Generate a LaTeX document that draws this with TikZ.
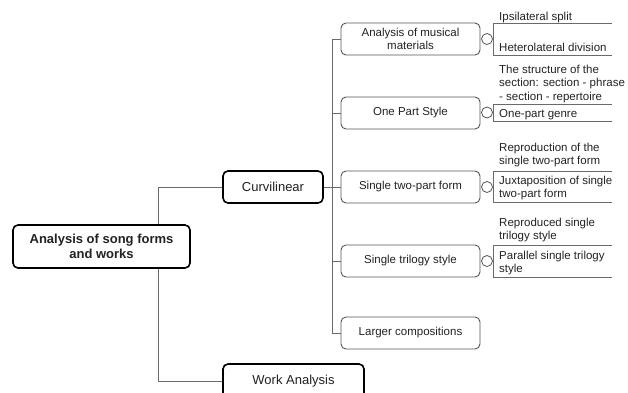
\documentclass[tikz,border=0pt]{standalone}
\usepackage{fontspec}
\setmainfont{Liberation Sans}
\definecolor{ink}{HTML}{222222}
\definecolor{edge}{HTML}{555555}
\definecolor{wire}{HTML}{6A6A6A}
\begin{document}
\begin{tikzpicture}[x=1pt,y=-1pt,
  topic/.style={draw=black, line width=1.6pt, rounded corners=5pt, fill=white,
    text=ink, align=center, inner sep=0pt, font=\fontsize{13}{15.5}\selectfont},
  roottopic/.style={topic, font=\fontsize{13}{15.5}\selectfont\bfseries},
  subtopic/.style={draw=edge, line width=0.9pt, rounded corners=5pt, fill=white,
    text=ink, align=center, inner sep=0pt, minimum width=139pt, minimum height=32pt,
    font=\fontsize{11.5}{13.5}\selectfont},
  link/.style={draw=wire, line width=0.9pt},
  knob/.style={circle, draw=edge, line width=0.8pt, fill=white, minimum size=11pt, inner sep=0pt},
  bracket/.style={draw=wire, line width=0.8pt},
  leaf/.style={anchor=north west, inner sep=0pt, align=left, text=ink,
    font=\fontsize{11.5}{13.5}\selectfont}
]
\useasboundingbox (0,0) rectangle (628,392);
\clip (0,0) rectangle (628,392);

% main topics
\node[roottopic, minimum width=177pt, minimum height=43pt] (root) at (101.5,246.5)
  {Analysis of song forms\\and works};
\node[topic, minimum width=100pt, minimum height=32pt] (curv) at (273,187) {Curvilinear};
\node[topic, minimum width=141pt, minimum height=34pt] (work) at (293.5,381) {Work Analysis};

% subtopics of Curvilinear
\node[subtopic] (s1) at (410.5,39)  {Analysis of musical\\materials};
\node[subtopic] (s2) at (410.5,113) {One Part Style};
\node[subtopic] (s3) at (410.5,187) {Single two-part form};
\node[subtopic] (s4) at (410.5,261) {Single trilogy style};
\node[subtopic] (s5) at (410.5,333) {Larger compositions};

% root connectors
\coordinate (rj) at (158,246.5);
\draw[link] (rj |- root.north) |- (curv.west);
\draw[link] (rj |- root.south) |- (work.west);

% Curvilinear connectors
\coordinate (cj) at (332,187);
\draw[link] (curv.east) -- (cj);
\draw[link] (cj |- s1.west) -- (cj |- s5.west);
\foreach \s in {s1,s2,s3,s4,s5} \draw[link] (cj |- \s.west) -- (\s.west);

% detail brackets
\foreach \i/\t/\b in {1/23/55, 2/104/121, 3/171/202.5, 4/245/277} {
  \coordinate (g\i t) at (493,\t);
  \coordinate (g\i b) at (493,\b);
  \draw[bracket] (g\i t) ++(119,0) -- (g\i t) -- (g\i b) -- ++(119,0);
}
\node[knob] (k1) at (487,39)    {};
\node[knob] (k2) at (487,112.5) {};
\node[knob] (k3) at (487,187)   {};
\node[knob] (k4) at (487,261)   {};

% detail texts
\node[leaf] (t1a) at (499,11.8)  {Ipsilateral split};
\node[leaf] (t1b) at (499,42.8)  {Heterolateral division};
\node[leaf] (t2a) at (499,64.8)  {The structure of the\\section: section - phrase\\- section - repertoire};
\node[leaf] (t2b) at (499,108.8) {One-part genre};
\node[leaf] (t3a) at (499,142.8) {Reproduction of the\\single two-part form};
\node[leaf] (t3b) at (499,175.8) {Juxtaposition of single\\two-part form};
\node[leaf] (t4a) at (499,217.8) {Reproduced single\\trilogy style};
\node[leaf] (t4b) at (499,250.8) {Parallel single trilogy\\style};
\end{tikzpicture}
\end{document}
